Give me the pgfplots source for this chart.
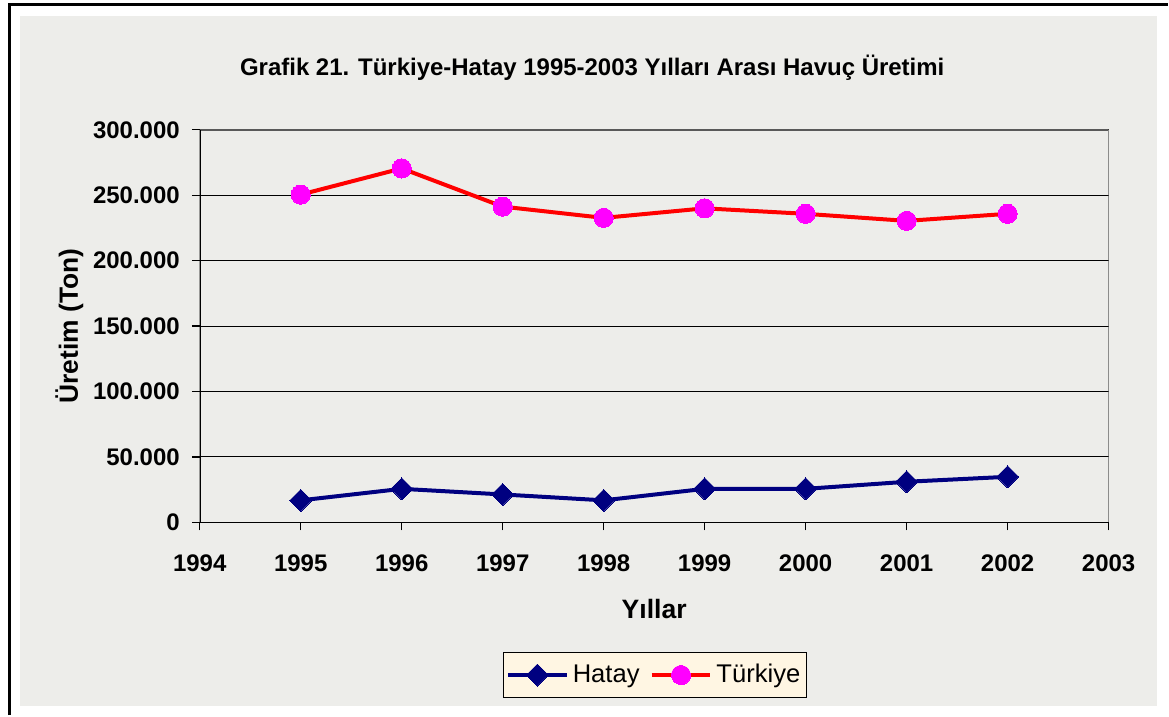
\documentclass[border=0pt]{standalone}
\usepackage{pgfplots}
\pgfplotsset{compat=1.18}
\usepackage{fontspec}
\setmainfont{Liberation Sans}
\definecolor{bggray}{HTML}{EDEDEA}
\definecolor{hatay}{HTML}{000080}
\definecolor{legbg}{HTML}{FFF6E3}
\definecolor{mag}{HTML}{FF00FF}
\definecolor{redl}{HTML}{FF0000}
\begin{document}
\begin{tikzpicture}[x=1pt,y=1pt]
\fill[white] (0,0) rectangle (584.5,358);
\fill[bggray] (10,4.5) rectangle (579,350);
\draw[black,line width=1.5pt] (5,0) -- (5,355.5) -- (584.5,355.5);
\node[font=\bfseries\fontsize{12}{14}\selectfont] at (296.5,324) {Grafik 21. Türkiye-Hatay 1995-2003 Yılları Arası Havuç Üretimi};
\begin{axis}[
  at={(100pt,96.5pt)}, anchor=south west,
  scale only axis, width=455pt, height=196.5pt,
  xmin=1994, xmax=2003, ymin=0, ymax=300000,
  xtick={1994,1995,1996,1997,1998,1999,2000,2001,2002,2003},
  xticklabels={1994,1995,1996,1997,1998,1999,2000,2001,2002,2003},
  ytick={0,50000,100000,150000,200000,250000,300000},
  yticklabels={0,50.000,100.000,150.000,200.000,250.000,300.000},
  scaled y ticks=false,
  ymajorgrids, grid style={black, line width=0.5pt},
  axis line style={draw=none},
  tick style={black, line width=0.6pt},
  tick align=outside, major tick length=4pt,
  xtick pos=bottom, ytick pos=left,
  yticklabel style={font=\bfseries\fontsize{12}{12}\selectfont, xshift=-2.5pt},
  xticklabel style={font=\bfseries\fontsize{12}{12}\selectfont, yshift=-8.5pt},
  xlabel={Yıllar}, ylabel={Üretim (Ton)},
  xlabel style={font=\bfseries\fontsize{13.3}{14}\selectfont, yshift=-7pt},
  ylabel style={font=\bfseries\fontsize{13.2}{14}\selectfont, yshift=-2pt},
  legend style={at={(0.501,-0.389)}, anchor=center, fill=legbg, draw=black, line width=0.6pt,
    legend columns=2, font=\fontsize{12.8}{13}\selectfont, inner xsep=1pt, inner ysep=4pt,
    /tikz/every odd column/.append style={column sep=0pt},
    /tikz/every even column/.append style={column sep=3pt}},
  legend cell align=left,
  legend image code/.code={\draw[mark repeat=2,mark phase=2] plot coordinates {(0pt,0pt) (14.75pt,0pt) (29.5pt,0pt)};},
]
\draw[gray!70!black, line width=0.8pt] (axis cs:1994,300000) -- (axis cs:2003,300000) -- (axis cs:2003,0);
\draw[black, line width=0.8pt] (axis cs:1994,300000) -- (axis cs:1994,0) -- (axis cs:2003,0);
\addplot[hatay, line width=2pt, mark=square*, mark size=3.9pt, mark options={fill=hatay, draw=hatay, line width=0pt, rotate=45}]
 coordinates {(1995,16800) (1996,25600) (1997,21300) (1998,16800) (1999,25600) (2000,25600) (2001,31000) (2002,34800)};
\addlegendentry{Hatay}
\addplot[redl, line width=2pt, mark=*, mark size=4.8pt, mark options={fill=mag, draw=mag, line width=0pt}]
 coordinates {(1995,250500) (1996,270500) (1997,241300) (1998,232700) (1999,240000) (2000,235800) (2001,230400) (2002,235800)};
\addlegendentry{Türkiye}
\end{axis}
\end{tikzpicture}
\end{document}
